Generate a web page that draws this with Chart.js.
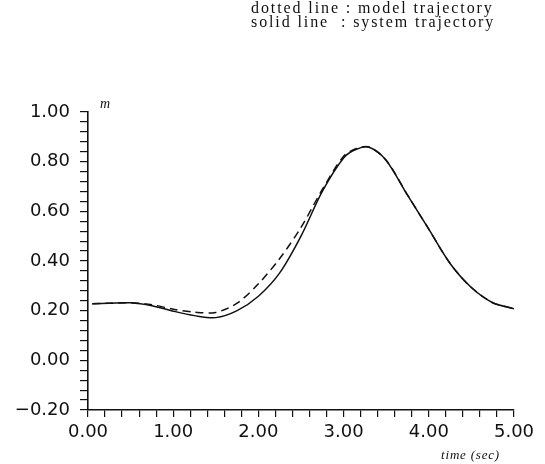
<!DOCTYPE html>
<html>
<head>
<meta charset="utf-8">
<script src="https://cdn.jsdelivr.net/npm/chart.js@4"></script>
<style>
  html, body { margin: 0; padding: 0; background: #fff; }
</style>
</head>
<body>
<canvas id="trajChart" width="545" height="464"></canvas>
<script>
// time (sec)
const times = [0.05, 0.25, 0.5, 0.75, 1.0, 1.25, 1.5, 1.75, 2.0, 2.25, 2.5, 2.75, 3.0, 3.15, 3.3, 3.5, 3.75, 4.0, 4.25, 4.5, 4.75, 5.0];
// solid line : system trajectory (m)
const systemValues = [0.228, 0.230, 0.232, 0.220, 0.198, 0.180, 0.172, 0.200, 0.258, 0.352, 0.500, 0.680, 0.815, 0.850, 0.858, 0.805, 0.665, 0.528, 0.390, 0.293, 0.232, 0.208];
// dotted line : model trajectory (m)
const modelValues = [0.228, 0.230, 0.232, 0.224, 0.206, 0.194, 0.193, 0.230, 0.308, 0.410, 0.535, 0.688, 0.822, 0.853, 0.859, 0.806, 0.666, 0.528, 0.390, 0.293, 0.232, 0.208];

const legendLines = ['dotted line : model trajectory', 'solid line  : system trajectory'];
const yUnit = 'm';
const xTitle = 'time (sec)';

const toPoints = vals => times.map((t, i) => ({ x: t, y: vals[i] }));

// extra text: legend note, unit and axis title
const notes = {
  id: 'notes',
  afterDraw(chart) {
    const ctx = chart.ctx;
    const area = chart.chartArea;
    ctx.save();
    ctx.fillStyle = '#111';
    ctx.textBaseline = 'alphabetic';
    ctx.textAlign = 'left';
    ctx.font = '16px "Liberation Serif", serif';
    if ('letterSpacing' in ctx) ctx.letterSpacing = '1.9px';
    ctx.fillText(legendLines[0], 251, 13);
    ctx.fillText(legendLines[1], 251, 27);
    if ('letterSpacing' in ctx) ctx.letterSpacing = '0px';
    ctx.font = 'italic 14px "Liberation Serif", serif';
    ctx.fillText(yUnit, area.left + 12, area.top - 4);
    ctx.font = 'italic 13px "Liberation Serif", serif';
    if ('letterSpacing' in ctx) ctx.letterSpacing = '0.8px';
    ctx.textAlign = 'right';
    ctx.fillText(xTitle, area.right - 14, 459);
    ctx.restore();
  }
};

const ctx = document.getElementById('trajChart');
new Chart(ctx, {
  type: 'line',
  data: {
    datasets: [
      {
        label: 'model trajectory',
        data: toPoints(modelValues),
        borderColor: '#111',
        borderWidth: 1.5,
        borderDash: [8, 5],
        pointRadius: 0,
        tension: 0.3,
        fill: false
      },
      {
        label: 'system trajectory',
        data: toPoints(systemValues),
        borderColor: '#111',
        borderWidth: 1.5,
        pointRadius: 0,
        tension: 0.3,
        fill: false
      }
    ]
  },
  options: {
    responsive: false,
    animation: false,
    layout: {
      padding: { top: 112, right: 31, left: 0, bottom: 0 }
    },
    scales: {
      x: {
        type: 'linear',
        min: 0,
        max: 5,
        afterFit: scale => { scale.height = 54; },
        ticks: {
          stepSize: 0.2,
          autoSkip: false,
          maxRotation: 0,
          padding: 5,
          color: '#111',
          font: { family: '"DejaVu Sans", sans-serif', size: 18 },
          callback: v => Math.abs(v - Math.round(v)) < 1e-6 ? v.toFixed(2) : ''
        },
        grid: {
          drawOnChartArea: false,
          drawTicks: true,
          tickLength: 7,
          color: '#111',
          lineWidth: 1.2
        },
        border: { display: true, color: '#111', width: 1.6 }
      },
      y: {
        min: -0.2,
        max: 1.0,
        afterFit: scale => { scale.width = 88; },
        ticks: {
          stepSize: 0.04,
          autoSkip: false,
          padding: 10,
          color: '#111',
          font: { family: '"DejaVu Sans", sans-serif', size: 18 },
          callback: v => {
            const r = Math.round(v * 100);
            if (r % 20 !== 0) return '';
            const s = Math.abs(r / 100).toFixed(2);
            return r < 0 ? '\u2212' + s : s;
          }
        },
        grid: {
          drawOnChartArea: false,
          drawTicks: true,
          tickLength: 8,
          color: '#111',
          lineWidth: 1.2
        },
        border: { display: true, color: '#111', width: 1.6 }
      }
    },
    plugins: {
      legend: { display: false },
      tooltip: { enabled: false }
    }
  },
  plugins: [notes]
});
</script>
</body>
</html>
